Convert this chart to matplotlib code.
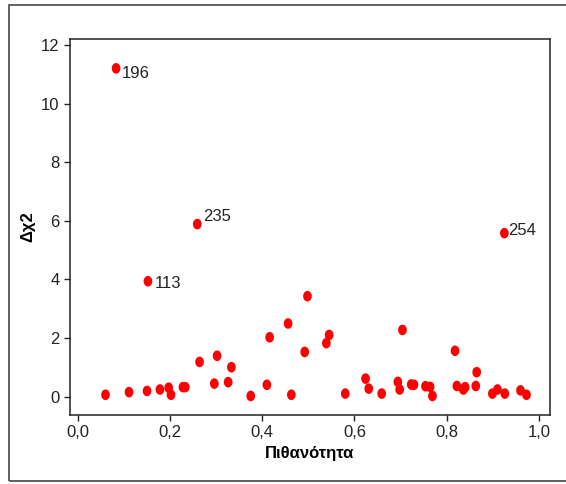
import numpy as np
import matplotlib
matplotlib.use("Agg")
import matplotlib.pyplot as plt
from matplotlib.patches import Rectangle
from matplotlib.path import Path

# Πιθανότητα (x) και Δχ2 (y)
prob = [0.083, 0.259, 0.152, 0.925, 0.498, 0.456, 0.416, 0.545, 0.539, 0.492,
        0.704, 0.818, 0.865, 0.264, 0.302, 0.333, 0.296, 0.326, 0.410, 0.375,
        0.463, 0.580, 0.624, 0.631, 0.659, 0.694, 0.698, 0.723, 0.729, 0.754,
        0.764, 0.769, 0.822, 0.836, 0.840, 0.863, 0.899, 0.910, 0.926, 0.960,
        0.973, 0.060, 0.111, 0.150, 0.178, 0.197, 0.202, 0.228, 0.233]
dchi2 = [11.2, 5.89, 3.94, 5.58, 3.43, 2.50, 2.03, 2.11, 1.83, 1.53,
         2.28, 1.57, 0.84, 1.19, 1.40, 1.01, 0.45, 0.50, 0.41, 0.03,
         0.07, 0.11, 0.62, 0.28, 0.11, 0.51, 0.25, 0.42, 0.41, 0.36,
         0.34, 0.03, 0.37, 0.25, 0.33, 0.37, 0.11, 0.25, 0.11, 0.22,
         0.07, 0.07, 0.16, 0.20, 0.25, 0.31, 0.07, 0.33, 0.33]

# σημεία με ετικέτα
labels = ["196", "235", "113", "254"]
label_idx = [0, 1, 2, 3]
label_off = [(4, -7), (4, 2), (5, -5), (3, -1)]

xticks = [0.0, 0.2, 0.4, 0.6, 0.8, 1.0]
xtick_labels = ["0,0", "0,2", "0,4", "0,6", "0,8", "1,0"]
yticks = [0, 2, 4, 6, 8, 10, 12]

plt.rcParams['font.family'] = ['Liberation Sans', 'DejaVu Sans']

# ελλειπτικός δείκτης (λίγο πιο ψηλός από φαρδύς)
t = np.linspace(0, 2 * np.pi, 40)
ellipse = Path(np.column_stack([0.82 * np.cos(t), np.sin(t)]), closed=True)

fig = plt.figure(figsize=(5.66, 4.84), dpi=100)
fig.patches.append(Rectangle((9 / 566, 1 - 481 / 484), 570 / 566, 476 / 484,
                             transform=fig.transFigure, fill=False,
                             edgecolor='#555555', linewidth=1.3))

ax = fig.add_axes([70 / 566, 1 - 415 / 484, 480 / 566, 376 / 484])
ax.scatter(prob, dchi2, s=58, marker=ellipse, color='#ff0000', edgecolors='none', zorder=3)

for lab, i, (dx, dy) in zip(labels, label_idx, label_off):
    ax.annotate(lab, (prob[i], dchi2[i]), xytext=(dx, dy), textcoords='offset points',
                fontsize=12, color='#222222')

ax.set_xlim(-0.017, 1.024)
ax.set_ylim(-0.62, 12.2)
ax.set_xticks(xticks)
ax.set_xticklabels(xtick_labels)
ax.set_yticks(yticks)
ax.tick_params(direction='out', length=4, width=1, labelsize=12, colors='#222222')
for sp in ax.spines.values():
    sp.set_linewidth(1.1)
    sp.set_color('#222222')

ax.set_xlabel('Πιθανότητα', fontsize=12, fontweight='bold', labelpad=4)
ax.set_ylabel('Δχ2', fontsize=12, fontweight='bold', labelpad=4)

fig.savefig('out.png', dpi=100)
